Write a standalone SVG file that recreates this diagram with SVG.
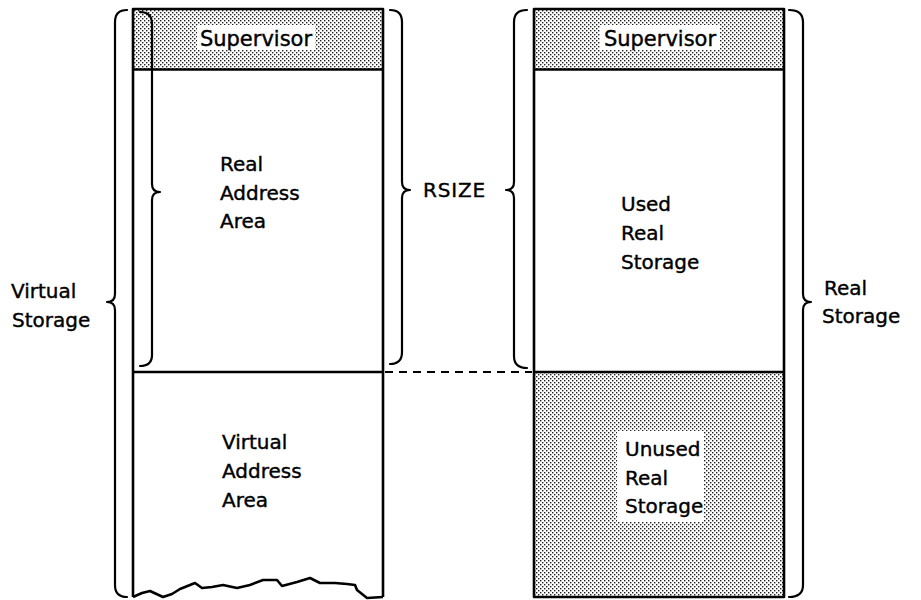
<svg xmlns="http://www.w3.org/2000/svg" width="921" height="600" viewBox="0 0 921 600">
<defs>
<pattern id="dots" width="4" height="4" patternUnits="userSpaceOnUse">
<rect width="4" height="4" fill="#ffffff"/>
<rect x="0" y="0" width="1.4" height="1.4" fill="#222"/>
<rect x="2" y="2" width="1.4" height="1.4" fill="#222"/>
</pattern>
<style>
.box{fill:none;stroke:#000;stroke-width:2.6;stroke-linejoin:round}
.stip{fill:url(#dots);stroke:none}
.brace{fill:none;stroke:#000;stroke-width:2.2;stroke-linecap:round;stroke-linejoin:round}
.lbl{font-family:"DejaVu Sans",sans-serif;font-size:20px;fill:#000;stroke:#000;stroke-width:0.4}
.sup{font-size:21px}
.wbg{fill:#fff;stroke:none}
.dash{fill:none;stroke:#000;stroke-width:2;stroke-dasharray:8 6}
</style>
</defs>
<rect width="921" height="600" fill="#fff"/>

<g id="virtual-storage">
<rect class="stip" x="133" y="9" width="250" height="60.5"/>
<path class="box" d="M133,597 L133,9 L383,9 L383,597"/>
<line class="box" x1="133" y1="69.5" x2="383" y2="69.5"/>
<line class="box" x1="133" y1="372" x2="383" y2="372"/>
<path class="box" d="M133,597 L142,593 L150,591 L163,597 L172,594 L180,589 L195,583 L202,588 L212,587 L223,585 L237,588 L250,585 L263,580 L277,580 L282,586 L297,582 L310,578 L320,583 L335,583 L347,584 L355,585 L357,590 L367,598 L383,597"/>
</g>

<g id="supervisor-left">
<rect class="wbg" x="197" y="25" width="118" height="25"/>
<text class="lbl sup" x="256" y="46" text-anchor="middle">Supervisor</text>
</g>

<g id="real-address-area">
<text class="lbl" x="220" y="171">Real</text>
<text class="lbl" x="220" y="199.5">Address</text>
<text class="lbl" x="220" y="228">Area</text>
</g>

<g id="virtual-address-area">
<text class="lbl" x="222" y="449">Virtual</text>
<text class="lbl" x="222" y="478">Address</text>
<text class="lbl" x="222" y="507">Area</text>
</g>

<g id="real-storage">
<rect class="stip" x="534" y="9" width="250" height="60.5"/>
<rect class="stip" x="534" y="372" width="250" height="225"/>
<rect class="box" x="534" y="9" width="250" height="588"/>
<line class="box" x1="534" y1="69.5" x2="784" y2="69.5"/>
<line class="box" x1="534" y1="372" x2="784" y2="372"/>
</g>

<g id="supervisor-right">
<rect class="wbg" x="600" y="25" width="120" height="25"/>
<text class="lbl sup" x="660" y="46" text-anchor="middle">Supervisor</text>
</g>

<g id="used-real-storage">
<text class="lbl" x="621" y="211">Used</text>
<text class="lbl" x="621" y="240">Real</text>
<text class="lbl" x="621" y="269">Storage</text>
</g>

<g id="unused-real-storage">
<rect class="wbg" x="617" y="431" width="87" height="91"/>
<text class="lbl" x="625" y="456">Unused</text>
<text class="lbl" x="625" y="485">Real</text>
<text class="lbl" x="625" y="513">Storage</text>
</g>

<g id="labels">
<text class="lbl" x="11" y="298">Virtual</text>
<text class="lbl" x="12" y="327">Storage</text>
<text class="lbl" x="423" y="197" font-size="21" letter-spacing="0.8">RSIZE</text>
<text class="lbl" x="824" y="295">Real</text>
<text class="lbl" x="822" y="323">Storage</text>
</g>

<g id="connectors">
<path class="brace" d="M127,10 Q115,10 115,22 L115,294 Q115,302 107,302 Q115,302 115,310 L115,585 Q115,597 127,597"/>
<path class="brace" d="M140,12 Q152,12 152,24 L152,184 Q152,192 160,192 Q152,192 152,200 L152,355 Q152,366 140,366"/>
<path class="brace" d="M390,10 Q402,10 402,22 L402,182 Q402,190 410,190 Q402,190 402,198 L402,352 Q402,364 390,364"/>
<path class="brace" d="M527,10 Q514,10 514,22 L514,182 Q514,190 506,190 Q514,190 514,198 L514,356 Q514,368 527,368"/>
<path class="brace" d="M789,10 Q803,10 803,22 L803,294 Q803,302 811,302 Q803,302 803,310 L803,585 Q803,597 789,597"/>
<line class="dash" x1="385" y1="372" x2="532" y2="372"/>
</g>
</svg>
